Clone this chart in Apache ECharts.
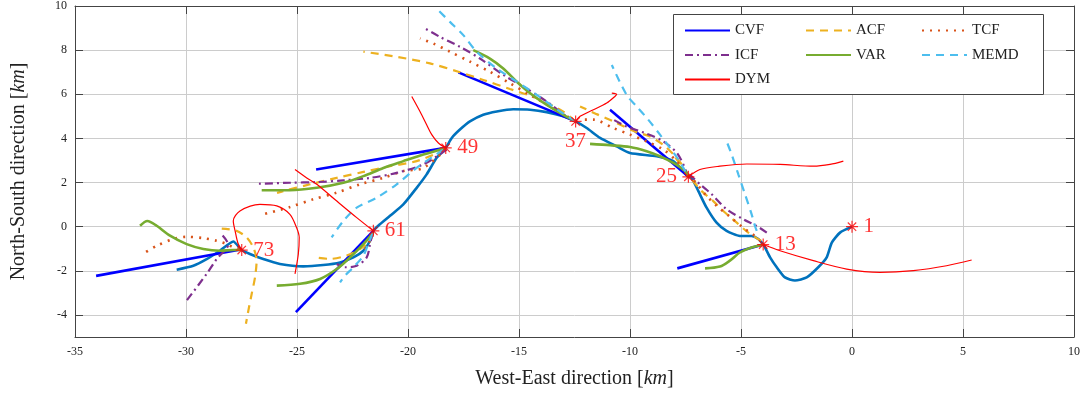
<!DOCTYPE html>
<html>
<head>
<meta charset="utf-8">
<script src="https://cdn.jsdelivr.net/npm/echarts@6/dist/echarts.min.js"></script>
<style>
  html, body { margin: 0; padding: 0; background: #fff; }
  #main { width: 1089px; height: 399px; }
</style>
</head>
<body>
<div id="main"></div>
<script>
// ground truth trajectory (from point 1 to the end)
var truthPath = [[0,0],[-0.54,-0.27],[-0.91,-0.72],[-1.14,-1.39],[-1.52,-1.84],[-2.04,-2.30],[-2.57,-2.44],[-3.02,-2.30],
  [-3.39,-1.84],[-3.69,-1.39],[-3.92,-0.94],[-4.0,-0.81],[-4.22,-0.56],[-4.52,-0.42],[-5.05,-0.42],[-5.65,-0.19],
  [-6.1,0.18],[-6.55,0.86],[-6.92,1.61],[-7.22,2.21],[-7.37,2.26],[-8.05,2.97],[-8.8,3.19],[-10.0,3.34],
  [-10.6,3.64],[-11.35,4.02],[-11.95,4.47],[-12.45,4.77],[-13.0,5.0],[-13.75,5.19],[-14.5,5.30],[-15.26,5.32],
  [-16.0,5.22],[-16.61,5.07],[-17.21,4.77],[-17.66,4.40],[-18.03,4.02],[-18.3,3.57],[-18.71,3.12],[-19.16,2.37],
  [-19.61,1.76],[-20.21,1.01],[-20.81,0.49],[-21.34,0.04],[-21.56,-0.19],[-21.71,-0.64],[-22.01,-1.09],[-22.46,-1.39],
  [-23.06,-1.62],[-23.82,-1.74],[-24.72,-1.80],[-25.77,-1.69],[-26.52,-1.47],[-27.12,-1.24],[-27.49,-1.06],
  [-27.87,-0.67],[-28.47,-1.09],[-29.07,-1.47],[-29.67,-1.77],[-30.42,-1.95]];

// marked samples
var markIds = ['1', '13', '25', '37', '49', '61', '73'];
var markPts = [[0,0],[-4.0,-0.81],[-7.37,2.26],[-12.45,4.77],[-18.3,3.57],[-21.56,-0.19],[-27.49,-1.06]];

// predicted segments per method
var cvfSegs = [
  [[-4.0,-0.81],[-7.87,-1.89]],
  [[-7.4,2.3],[-10.9,5.3]],
  [[-12.45,4.77],[-17.73,6.99]],
  [[-18.3,3.57],[-24.14,2.59]],
  [[-21.56,-0.19],[-25.05,-3.87]],
  [[-27.6,-1.05],[-34.05,-2.23]]
];
var acfSegs = [
  [[-4.1,-0.64],[-4.67,-0.27],[-5.19,0.18],[-5.8,0.71],[-6.25,1.16],[-6.77,1.61],[-7.15,2.06],[-7.45,2.44],[-8.05,3.27]],
  [[-7.37,2.26],[-7.67,2.82],[-7.97,3.19],[-8.42,3.64],[-9.1,4.09],[-9.7,4.28],[-10.75,4.77],[-11.5,5.1],[-12.25,5.45]],
  [[-12.45,4.77],[-13.02,5.22],[-14.2,5.82],[-15.41,6.24],[-16.61,6.65],[-17.73,7.02],[-19.01,7.4],[-20.51,7.7],[-22.01,7.93]],
  [[-18.3,3.5],[-19.61,2.97],[-20.81,2.74],[-22.01,2.48],[-23.21,2.21],[-24.41,1.92],[-25.62,1.61],[-25.9,1.53]],
  [[-21.6,-0.3],[-21.71,-0.64],[-22.16,-1.01],[-22.76,-1.31],[-23.51,-1.46],[-24.27,-1.38]],
  [[-28.39,-0.09],[-27.72,-0.19],[-27.27,-0.49],[-26.97,-0.94],[-26.82,-1.54],[-26.89,-2.29],[-27.04,-3.04],[-27.19,-3.8],[-27.3,-4.4]]
];
var tcfSegs = [
  [[-4.4,-0.4],[-4.9,-0.05],[-5.5,0.45],[-6.1,0.95],[-6.6,1.45],[-7.0,1.95],[-7.4,2.4]],
  [[-7.37,2.26],[-7.9,2.97],[-8.51,3.5],[-9.25,3.86],[-10.0,4.17],[-10.75,4.47],[-11.65,4.85],[-12.3,4.85]],
  [[-12.45,4.77],[-12.7,4.92],[-13.6,5.45],[-14.5,5.97],[-15.41,6.5],[-16.31,7.02],[-17.21,7.48],[-18.11,7.93],[-18.86,8.3],[-19.46,8.53]],
  [[-18.3,3.5],[-19.31,2.66],[-20.21,2.52],[-21.11,2.21],[-22.16,1.92],[-23.21,1.54],[-24.27,1.24],[-25.32,0.89],[-26.44,0.58]],
  [[-21.6,-0.3],[-21.75,-0.7],[-21.95,-1.05]],
  [[-27.6,-1.0],[-27.87,-0.94],[-28.17,-0.79],[-28.62,-0.64],[-29.22,-0.52],[-29.97,-0.46],[-30.57,-0.56],[-31.32,-0.87],[-32.0,-1.27]]
];
var icfSegs = [
  [[-3.84,-0.27],[-4.29,0.03],[-4.9,0.34],[-5.65,0.79],[-6.32,1.47],[-6.85,1.92],[-7.3,2.35]],
  [[-7.37,2.26],[-7.84,3.28],[-8.51,3.87],[-9.32,4.24],[-10.15,4.54],[-10.77,4.86]],
  [[-12.45,4.77],[-12.85,4.99],[-13.75,5.67],[-14.81,6.35],[-15.71,6.88],[-16.76,7.62],[-17.66,8.15],[-18.56,8.6],[-19.23,8.98]],
  [[-18.26,3.49],[-19.31,2.82],[-20.51,2.44],[-21.71,2.21],[-22.91,2.1],[-24.11,2.02],[-25.32,1.99],[-26.89,1.94]],
  [[-21.6,-0.3],[-21.71,-0.79],[-21.86,-1.39],[-22.31,-1.77],[-22.84,-1.84],[-23.21,-1.69]],
  [[-28.35,-0.4],[-28.1,-0.8],[-28.62,-1.47],[-29.07,-2.14],[-29.97,-3.35]]
];
var varSegs = [
  [[-4.0,-0.81],[-4.59,-0.97],[-5.05,-1.17],[-5.5,-1.54],[-5.95,-1.81],[-6.62,-1.89]],
  [[-7.37,2.26],[-7.52,2.52],[-8.05,2.89],[-8.65,3.19],[-9.25,3.42],[-10.0,3.61],[-10.9,3.69],[-11.8,3.75]],
  [[-12.45,4.77],[-13.0,5.07],[-13.75,5.52],[-14.5,6.05],[-15.1,6.57],[-15.71,7.17],[-16.31,7.62],[-17.06,8.0]],
  [[-18.3,3.57],[-19.31,3.27],[-20.21,2.97],[-21.11,2.66],[-22.01,2.29],[-22.91,1.99],[-24.11,1.76],[-25.32,1.65],[-26.59,1.65]],
  [[-21.56,-0.27],[-22.01,-0.79],[-22.61,-1.39],[-23.21,-1.92],[-23.96,-2.37],[-24.86,-2.59],[-25.91,-2.67]],
  [[-27.49,-1.06],[-27.87,-1.06],[-28.47,-1.09],[-29.22,-1.01],[-29.97,-0.79],[-30.72,-0.41],[-31.32,0.04],[-31.74,0.26],[-32.07,0.04]]
];
var memdSegs = [
  [[-4.29,-0.19],[-4.37,0.03],[-4.52,0.56],[-4.82,1.47],[-5.12,2.37],[-5.42,3.27],[-5.65,3.87]],
  [[-7.5,2.5],[-7.82,3.04],[-8.2,3.57],[-8.65,4.17],[-9.18,4.85],[-9.7,5.45],[-10.15,5.97],[-10.82,7.33]],
  [[-12.45,4.77],[-13.15,5.22],[-14.2,5.97],[-15.1,6.57],[-16.0,7.17],[-16.91,7.93],[-17.51,8.68],[-18.11,9.28],[-18.71,9.88]],
  [[-18.41,3.49],[-19.61,2.66],[-20.51,1.92],[-21.41,1.31],[-22.31,0.86],[-22.91,0.26],[-23.44,-0.49]],
  [[-21.6,-0.3],[-21.8,-0.8],[-22.01,-1.32],[-22.46,-1.84],[-22.84,-2.22],[-23.06,-2.52]]
];
var dymSegs = [
  [[-4.0,-0.81],[-3.24,-1.09],[-1.74,-1.54],[-0.24,-1.92],[1.26,-2.07],[2.76,-1.99],[4.26,-1.77],[5.39,-1.51]],
  [[-7.37,2.26],[-6.85,2.59],[-5.95,2.74],[-4.74,2.84],[-3.24,2.82],[-1.74,2.74],[-0.99,2.82],[-0.39,2.97]],
  [[-12.45,4.77],[-12.25,5.0],[-11.65,5.3],[-11.05,5.6],[-10.68,5.9],[-10.6,6.0],[-10.82,6.05]],
  [[-18.3,3.57],[-18.63,3.79],[-18.93,4.17],[-19.16,4.62],[-19.46,5.22],[-19.83,5.9]],
  [[-21.56,-0.19],[-22.31,0.41],[-23.21,1.16],[-24.11,1.92],[-24.56,2.21],[-25.09,2.59]],
  [[-27.49,-1.06],[-27.66,-0.75],[-27.79,-0.18],[-27.87,0.26],[-27.57,0.71],[-26.67,1.01],[-25.91,0.94],[-25.32,0.56],
   [-25.02,-0.04],[-24.9,-0.49],[-24.94,-1.24],[-25.09,-2.14]]
];

var xTicks = [-35, -30, -25, -20, -15, -10, -5, 0, 5, 10];
var yTicks = [-4, -2, 0, 2, 4, 6, 8, 10];

var methods = [
  { name: 'CVF', segs: cvfSegs, color: '#0000ff', width: 2.6, type: 'solid' },
  { name: 'ACF', segs: acfSegs, color: '#edb120', width: 2.2, type: [8, 6] },
  { name: 'TCF', segs: tcfSegs, color: '#d95319', width: 2.6, type: [2, 6] },
  { name: 'ICF', segs: icfSegs, color: '#7e2f8e', width: 2.2, type: [8, 4, 2, 4] },
  { name: 'VAR', segs: varSegs, color: '#77ac30', width: 2.6, type: 'solid' },
  { name: 'MEMD', segs: memdSegs, color: '#4dbeee', width: 2.2, type: [8, 6] },
  { name: 'DYM', segs: dymSegs, color: '#ff0000', width: 1.2, type: 'solid' }
];

var serif = 'Liberation Serif';
var series = [];

series.push({
  name: 'truth', type: 'line', data: truthPath, symbol: 'none', smooth: 0.2,
  lineStyle: { color: '#0072bd', width: 2.6 }, z: 2
});

methods.forEach(function (m) {
  m.segs.forEach(function (seg) {
    series.push({
      name: m.name, type: 'line', data: seg, symbol: 'none',
      smooth: seg.length > 2 ? 0.3 : false,
      itemStyle: { color: m.color },
      lineStyle: { color: m.color, width: m.width, type: m.type },
      z: 2
    });
  });
});

var labelPos = ['right', 'right', 'left', 'bottom', 'right', 'right', 'right'];
series.push({
  name: 'marks', type: 'scatter', z: 4,
  symbol: 'path://M0,5L10,5M5,0L5,10M1.5,1.5L8.5,8.5M1.5,8.5L8.5,1.5',
  symbolSize: 12,
  itemStyle: { color: 'none', borderColor: '#ff0000', borderWidth: 1.2 },
  data: markPts.map(function (p, i) {
    return {
      value: p,
      label: {
        show: true, formatter: markIds[i], position: labelPos[i],
        distance: labelPos[i] === 'bottom' ? 1 : 3,
        color: '#ff0000', fontFamily: serif, fontSize: 21
      }
    };
  })
});

var tickStyle = { show: true, inside: true, length: 8, lineStyle: { color: '#444' } };
var lineStyleAx = { show: true, onZero: false, lineStyle: { color: '#444', width: 1 } };

var myChart = echarts.init(document.getElementById('main'));
var option = {
  animation: false,
  grid: { left: 75, right: 15, top: 4, bottom: 62, containLabel: false },
  xAxis: [
    {
      type: 'value', min: -35, max: 10, interval: 5,
      name: '{a|West-East direction [}{b|km}{a|]}',
      nameLocation: 'middle', nameGap: 32,
      nameTextStyle: {
        rich: {
          a: { fontFamily: serif, fontSize: 20, color: '#222' },
          b: { fontFamily: serif, fontSize: 20, fontStyle: 'italic', color: '#222' }
        }
      },
      axisLine: lineStyleAx,
      axisTick: tickStyle,
      axisLabel: { fontFamily: serif, fontSize: 12, color: '#222', margin: 9 },
      splitLine: { show: true, lineStyle: { color: '#cccccc', width: 1 } }
    },
    {
      type: 'value', position: 'top', min: -35, max: 10, interval: 5,
      axisLine: lineStyleAx, axisTick: tickStyle,
      axisLabel: { show: false }, splitLine: { show: false }
    }
  ],
  yAxis: [
    {
      type: 'value', min: -5, max: 10,
      name: '{a|North-South direction [}{b|km}{a|]}',
      nameLocation: 'middle', nameGap: 46, nameRotate: 90,
      nameTextStyle: {
        rich: {
          a: { fontFamily: serif, fontSize: 20, color: '#222' },
          b: { fontFamily: serif, fontSize: 20, fontStyle: 'italic', color: '#222' }
        }
      },
      axisLine: lineStyleAx,
      axisTick: Object.assign({ customValues: yTicks }, tickStyle),
      axisLabel: { fontFamily: serif, fontSize: 12, color: '#222', margin: 8, customValues: yTicks },
      splitLine: { show: true, lineStyle: { color: '#cccccc', width: 1 } }
    },
    {
      type: 'value', position: 'right', min: -5, max: 10,
      axisLine: lineStyleAx,
      axisTick: Object.assign({ customValues: yTicks }, tickStyle),
      axisLabel: { show: false, customValues: yTicks }, splitLine: { show: false }
    }
  ],
  graphic: [{
    type: 'rect', z: 10,
    shape: { x: 673.5, y: 14.5, width: 370, height: 80 },
    style: { fill: '#fff', stroke: '#444', lineWidth: 1 }
  }],
  legend: [
    { data: ['CVF', 'ICF', 'DYM'], left: 684 },
    { data: ['ACF', 'VAR'], left: 805 },
    { data: ['TCF', 'MEMD'], left: 921 }
  ].map(function (l) {
    return Object.assign({
      orient: 'vertical', top: 23, padding: 0, itemGap: 9.5,
      itemWidth: 45, itemHeight: 14, z: 12,
      itemStyle: { opacity: 0 },
      textStyle: { fontFamily: serif, fontSize: 15, color: '#222' }
    }, l);
  }),
  series: series
};
myChart.setOption(option);
</script>
</body>
</html>
